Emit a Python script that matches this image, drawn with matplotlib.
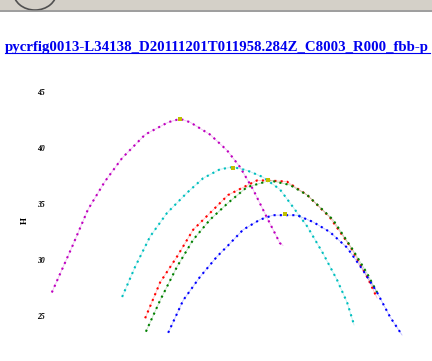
import matplotlib
matplotlib.use("Agg")
import matplotlib.pyplot as plt
from matplotlib.patches import Rectangle, Circle
from matplotlib.lines import Line2D

# 轨迹数据
mag_x = [1.0, 6.3, 10.4, 14.8, 19.3, 25.3, 31.3, 34.4, 37.0, 42.2, 46.6, 50.0, 53.4, 57.0, 60.4, 61.2]
mag_y = [27.1, 31.2, 34.5, 37.0, 39.1, 41.2, 42.3, 42.6, 42.3, 41.2, 39.8, 38.3, 36.3, 33.8, 31.5, 31.3]

cyan_x = [19.3, 22.7, 26.6, 31.0, 36.2, 40.4, 44.8, 48.2, 51.8, 56.0, 60.4, 63.0, 67.5, 71.6, 75.3, 77.9, 79.7]
cyan_y = [26.7, 29.4, 32.1, 34.2, 36.0, 37.3, 38.1, 38.3, 38.0, 37.4, 36.3, 35.1, 33.0, 30.6, 28.2, 26.2, 24.2]

red_x = [25.3, 29.2, 33.6, 37.8, 42.2, 46.9, 54.4, 57.3, 62.2, 67.5, 73.4, 78.7, 83.1, 85.7]
red_y = [24.8, 28.0, 30.3, 32.7, 34.2, 35.8, 37.1, 37.1, 37.0, 35.8, 33.8, 31.2, 28.5, 26.6]

green_x = [25.5, 29.2, 33.6, 37.8, 42.2, 46.9, 51.8, 57.8, 63.0, 67.5, 74.2, 79.4, 83.1, 85.7]
green_y = [23.6, 26.4, 29.4, 31.8, 33.6, 35.1, 36.5, 37.1, 36.7, 35.8, 33.6, 30.9, 28.8, 27.1]

blue_x = [31.3, 35.2, 39.6, 44.0, 46.9, 50.8, 55.2, 58.6, 64.8, 69.0, 73.4, 77.9, 82.0, 85.7, 89.1, 92.2]
blue_y = [23.5, 26.4, 28.5, 30.3, 31.3, 32.7, 33.6, 34.0, 34.0, 33.4, 32.5, 31.1, 29.1, 27.1, 24.9, 23.3]

# 峰值标记
peak_x = [34.4, 48.2, 57.3, 61.7]
peak_y = [42.6, 38.2, 37.1, 34.1]

yticks = [25, 30, 35, 40, 45]
title = "pycrfig0013-L34138_D20111201T011958.284Z_C8003_R000_fbb-p"

fig = plt.figure(figsize=(4.32, 3.61), dpi=100)

# 浏览器顶部工具栏
fig.patches.append(Rectangle((0, 1 - 10 / 361), 1, 10 / 361, transform=fig.transFigure,
                             facecolor="#d4d0c8", edgecolor="none"))
fig.add_artist(Line2D([0, 1], [1 - 10.5 / 361] * 2, transform=fig.transFigure, color="#8c8c8c", lw=1.2))
fig.patches.append(Circle((35 / 432, 1 + 8 / 361), 0.05, transform=fig.transFigure,
                          facecolor="none", edgecolor="#505050", lw=1.2))

# 标题（链接样式）
fig.text(5 / 432, 1 - 51 / 361, title, color="#0000ee", fontsize=10.7, family="Liberation Serif",
         fontweight="bold", ha="left", va="baseline")
fig.add_artist(Line2D([5 / 432, 430 / 432], [1 - 53 / 361] * 2, transform=fig.transFigure,
                      color="#0000ee", lw=0.8))

ax = fig.add_axes([48 / 432, 0, 1 - 48 / 432, (361 - 80) / 361])
for xs, ys, c in [(mag_x, mag_y, "m"), (cyan_x, cyan_y, "c"), (red_x, red_y, "r"),
                  (green_x, green_y, "g"), (blue_x, blue_y, "b")]:
    ax.plot(xs, ys, color=c, lw=0.6, alpha=0.25)
    ax.plot(xs, ys, color=c, lw=1.5, linestyle=(0, (1, 2)))
ax.plot(peak_x, peak_y, "s", color="y", markersize=3.5, markeredgewidth=0)

ax.set_xlim(0, 100)
ax.set_ylim(20.98, 46.07)
ax.set_yticks(yticks)
ax.set_yticklabels([str(v) for v in yticks], fontsize=5.5, family="Liberation Serif",
                   fontweight="bold", style="italic")
ax.set_xticks([])
ax.tick_params(axis="y", length=0, pad=2)
for s in ax.spines.values():
    s.set_visible(False)
ax.set_ylabel("H", fontsize=6.5, family="Liberation Serif", fontweight="bold", labelpad=6)

fig.savefig("out.png", dpi=100)
